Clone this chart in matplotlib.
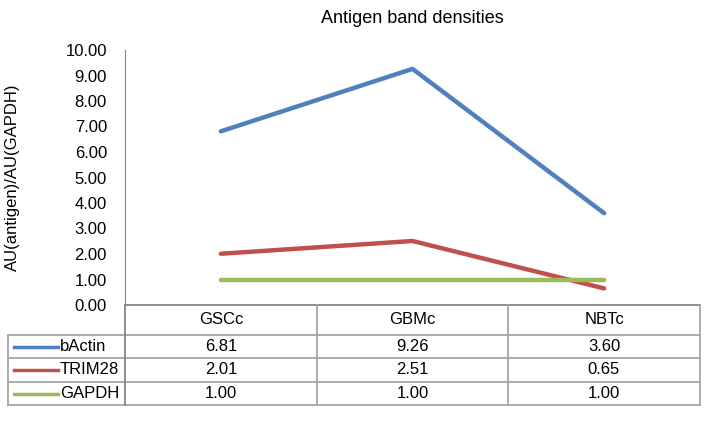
import matplotlib.pyplot as plt
from matplotlib.lines import Line2D

plt.rcParams['font.family'] = ['Liberation Sans', 'DejaVu Sans']

# Data
categories = ['GSCc', 'GBMc', 'NBTc']
series_names = ['bActin', 'TRIM28', 'GAPDH']
bactin = [6.81, 9.26, 3.60]
trim28 = [2.01, 2.51, 0.65]
gapdh = [1.00, 1.00, 1.00]
yticks = [0, 1, 2, 3, 4, 5, 6, 7, 8, 9, 10]

colors = ['#4F81BD', '#C0504D', '#9BBB59']
W, H = 706, 429
fs = 12


def fx(px):
    return px / W


def fy(py):
    return 1 - py / H


fig = plt.figure(figsize=(W / 100, H / 100), dpi=100)
ax = fig.add_axes([fx(125), fy(305), fx(700) - fx(125), fy(50) - fy(305)])

x = list(range(len(categories)))
for vals, c in zip([bactin, trim28, gapdh], colors):
    ax.plot(x, vals, color=c, lw=3.2, solid_capstyle='round')

ax.set_xlim(-0.5, len(categories) - 0.5)
ax.set_ylim(0, 10)
ax.set_yticks(yticks)
ax.set_yticklabels([f'{v:.2f}' for v in yticks], fontsize=fs)
ax.tick_params(axis='y', length=0, pad=13)
ax.set_xticks([])
for s in ['top', 'right', 'bottom']:
    ax.spines[s].set_visible(False)
ax.spines['left'].set_color('#868686')

fig.text(fx(12), fy(177), 'AU(antigen)/AU(GAPDH)', rotation=90,
         ha='center', va='center', fontsize=fs)

fig.suptitle('Antigen band densities', x=fx(412), y=fy(10), va='top',
             fontsize=13)

# Data table below the plot
line_c = '#A6A6A6'
col_edges = [125, 317, 508, 700]
row_edges = [305, 335, 358, 382, 405]
left = 8


def hline(x0, x1, y, color=line_c, lw=1.3):
    fig.add_artist(Line2D([fx(x0), fx(x1)], [fy(y), fy(y)], color=color, lw=lw))


def vline(xp, y0, y1, color=line_c, lw=1.3):
    fig.add_artist(Line2D([fx(xp), fx(xp)], [fy(y0), fy(y1)], color=color, lw=lw))


hline(125, 700, 305, color='#868686')
for yp in row_edges[1:]:
    hline(left, 700, yp)
for xp in col_edges[1:]:
    vline(xp, 305, 405)
vline(125, 305, 405, color='#868686')
vline(left, 335, 405)

centers = [(col_edges[i] + col_edges[i + 1]) / 2 for i in range(3)]
for cx, cat in zip(centers, categories):
    fig.text(fx(cx), fy((row_edges[0] + row_edges[1]) / 2), cat,
             ha='center', va='center', fontsize=fs)

for r, (name, vals, c) in enumerate(zip(series_names, [bactin, trim28, gapdh], colors)):
    yc = (row_edges[r + 1] + row_edges[r + 2]) / 2
    fig.add_artist(Line2D([fx(14), fx(58)], [fy(yc), fy(yc)], color=c, lw=2.5))
    fig.text(fx(60), fy(yc), name, ha='left', va='center', fontsize=fs)
    for cx, v in zip(centers, vals):
        fig.text(fx(cx), fy(yc), f'{v:.2f}', ha='center', va='center',
                 fontsize=fs)

fig.savefig('out.png', dpi=100)
